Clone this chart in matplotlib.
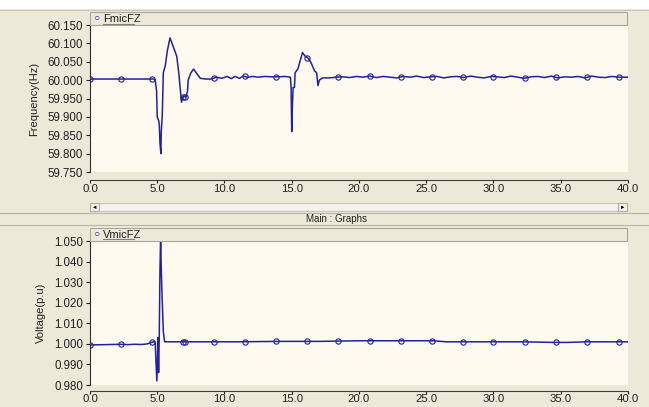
import numpy as np
import matplotlib
matplotlib.use("Agg")
from matplotlib import pyplot as plt
from matplotlib.patches import Rectangle
from matplotlib.lines import Line2D
from matplotlib.ticker import FormatStrFormatter

# frequency trace (s, Hz)
f_time = [0.0, 4.75, 4.85, 4.95, 5.0, 5.1, 5.15, 5.2, 5.27, 5.3, 5.37, 5.45, 5.6, 5.75,
          5.95, 6.2, 6.45, 6.6, 6.8, 6.9, 7.15, 7.25, 7.3, 7.5, 7.7, 7.9, 8.2, 8.6,
          9.0, 9.4, 9.8, 10.2, 10.5, 10.8, 11.1, 11.4, 11.7, 12.1, 12.5, 13.0, 13.5,
          14.0, 14.5, 14.9, 14.95, 15.0, 15.05, 15.1, 15.2, 15.25, 15.45, 15.8, 16.0,
          16.2, 16.4, 16.7, 16.85, 16.95, 17.05, 17.3, 17.8, 18.3, 18.8, 19.3, 19.8,
          20.3, 20.8, 21.3, 21.8, 22.3, 22.8, 23.3, 23.8, 24.3, 24.8, 25.3, 25.8,
          26.3, 26.8, 27.3, 27.8, 28.3, 28.8, 29.3, 29.8, 30.3, 30.8, 31.3, 31.8,
          32.3, 32.8, 33.3, 33.8, 34.3, 34.8, 35.3, 35.8, 36.3, 36.8, 37.3, 37.8,
          38.3, 38.8, 39.3, 40.0]
f_vals = [60.003, 60.003, 60.0, 59.97, 59.90, 59.89, 59.88, 59.83, 59.80, 59.86, 59.90,
          60.02, 60.04, 60.08, 60.115, 60.09, 60.065, 60.02, 59.94, 59.955, 59.955,
          59.97, 60.0, 60.02, 60.03, 60.02, 60.005, 60.003, 60.003, 60.008, 60.005,
          60.01, 60.004, 60.01, 60.005, 60.011, 60.008, 60.01, 60.008, 60.01, 60.009,
          60.009, 60.01, 60.008, 59.98, 59.86, 59.93, 59.98, 59.98, 60.02, 60.03,
          60.075, 60.065, 60.06, 60.05, 60.025, 60.02, 59.985, 60.0, 60.006, 60.006,
          60.008, 60.009, 60.007, 60.01, 60.008, 60.011, 60.007, 60.01, 60.008,
          60.006, 60.01, 60.008, 60.011, 60.007, 60.009, 60.01, 60.006, 60.009,
          60.01, 60.007, 60.011, 60.008, 60.006, 60.01, 60.009, 60.007, 60.011,
          60.008, 60.005, 60.009, 60.01, 60.007, 60.011, 60.006, 60.009, 60.008,
          60.01, 60.006, 60.011, 60.008, 60.007, 60.01, 60.008, 60.008]

# voltage trace (s, p.u.)
v_time = [0.0, 1.0, 2.3, 2.8, 3.3, 3.8, 4.2, 4.5, 4.7, 4.85, 4.9, 4.97, 5.02, 5.05,
          5.1, 5.15, 5.2, 5.25, 5.3, 5.35, 5.45, 5.55, 8.0, 11.0, 14.0, 17.0, 20.0,
          23.0, 25.5, 26.5, 29.0, 32.0, 34.5, 35.5, 37.0, 39.0, 40.0]
v_vals = [0.9995, 0.9996, 0.9998, 0.9996, 0.9998, 0.9997, 0.9999, 1.0005, 1.001,
          1.0008, 0.992, 0.982, 0.993, 1.003, 0.986, 1.004, 1.035, 1.052, 1.036,
          1.025, 1.006, 1.001, 1.001, 1.001, 1.0012, 1.0012, 1.0015, 1.0015, 1.0015,
          1.001, 1.001, 1.001, 1.0007, 1.0007, 1.001, 1.001, 1.001]

mark_times = [0.0, 2.3, 4.6, 6.95, 7.1, 9.2, 11.5, 13.85, 16.15, 18.45, 20.8, 23.1,
              25.4, 27.7, 30.0, 32.35, 34.65, 36.95, 39.3]

W, H = 649, 407
gray = '#ECE9D8'
cream = '#FEFAEF'
blue = '#22229E'

fig = plt.figure(figsize=(W / 100, H / 100), dpi=100)
fig.patch.set_facecolor(gray)
plt.rcParams['font.family'] = ['Liberation Sans', 'DejaVu Sans']


def box(x0, y0, x1, y1, fc, ec='none', lw=0.8):
    # pixel coords from top-left
    fig.add_artist(Rectangle((x0 / W, 1 - y1 / H), (x1 - x0) / W, (y1 - y0) / H,
                             transform=fig.transFigure, facecolor=fc, edgecolor=ec, lw=lw))


def hline(x0, x1, y, c='#B8B5A8'):
    fig.add_artist(Line2D([x0 / W, x1 / W], [1 - y / H, 1 - y / H],
                          transform=fig.transFigure, color=c, lw=0.8))


box(0, 0, W, 9, 'white')
hline(0, W, 9.5, '#C8C5B8')


def panel(top, bottom, t, v, ylim, yticks, ylabel, name, gap):
    ax = fig.add_axes([90 / W, 1 - bottom / H, 538 / W, (bottom - top) / H])
    ax.set_facecolor(cream)
    ax.plot(t, v, color=blue, lw=1.1)
    ax.plot(mark_times, np.interp(mark_times, t, v), ls='none', marker='o', ms=3.8,
            mfc='none', mec=blue, mew=0.8)
    ax.set_xlim(0, 40)
    ax.set_ylim(*ylim)
    ax.set_xticks(np.arange(0, 41, 5))
    ax.set_yticks(yticks)
    ax.xaxis.set_major_formatter(FormatStrFormatter('%.1f'))
    ax.yaxis.set_major_formatter(FormatStrFormatter('%.3f'))
    for s in ['top', 'right']:
        ax.spines[s].set_visible(False)
    ax.spines['bottom'].set_position(('outward', gap))
    ax.spines['left'].set_color('#303030')
    ax.spines['bottom'].set_color('#404040')
    ax.tick_params(axis='y', labelsize=8.3, colors='#202020', length=3, width=0.8, pad=2)
    ax.tick_params(axis='x', labelsize=8.2, colors='#202020', length=2, width=0.8, pad=0.5)
    ax.set_ylabel(ylabel, fontsize=8, color='#202020', labelpad=6)
    # legend bar
    box(90, top - 13, 627, top, gray, '#A8A59A')
    fig.text(93 / W, 1 - (top - 6.5) / H, '\u25CB', color=blue, fontsize=7.5,
             va='center', ha='left')
    fig.text(103 / W, 1 - (top - 6.5) / H, name, color='#202020', fontsize=8,
             va='center', ha='left')
    hline(103, 134, top - 1.5, '#808080')
    return ax


panel(25, 172, f_time, f_vals, (59.75, 60.15), np.arange(59.75, 60.151, 0.05),
      'Frequency(Hz)', 'FmicFZ', 5.8)
panel(241, 385, v_time, v_vals, (0.98, 1.05), np.arange(0.98, 1.0501, 0.01),
      'Voltage(p.u)', 'VmicFZ', 4.3)

# scrollbar
box(90, 203, 627, 211, '#F3F2EC', '#C8C5B8')
box(90, 203, 99, 211, '#F3F2EC', '#B0ADA0')
box(618, 203, 627, 211, '#F3F2EC', '#B0ADA0')
fig.text(94.5 / W, 1 - 207 / H, '\u25C4', fontsize=4, ha='center', va='center')
fig.text(622.5 / W, 1 - 207 / H, '\u25BA', fontsize=4, ha='center', va='center')
hline(0, W, 212.5)
fig.text(336 / W, 1 - 218.5 / H, 'Main : Graphs', fontsize=7, ha='center', va='center',
         color='#202020')
hline(0, W, 224.5)

fig.savefig('out.png', dpi=100, facecolor=fig.get_facecolor())
